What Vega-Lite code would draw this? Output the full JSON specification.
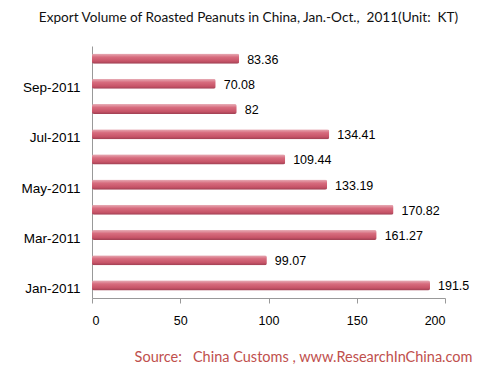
{
  "$schema": "https://vega.github.io/schema/vega-lite/v6.json",
  "autosize": {"type": "none"},
  "width": 353,
  "height": 252,
  "padding": {"left": 92, "top": 46, "right": 57, "bottom": 93},
  "background": "white",
  "title": {
    "text": "Export Volume of Roasted Peanuts in China, Jan.-Oct.,\u00a0 2011(Unit:\u00a0 KT)",
    "font": "Lato",
    "fontSize": 13.6,
    "fontWeight": "normal",
    "color": "#111111",
    "anchor": "middle",
    "dx": -20,
    "offset": 21
  },
  "data": {
    "values": [
      {"month": "Jan-2011", "value": 191.5},
      {"month": "Feb-2011", "value": 99.07},
      {"month": "Mar-2011", "value": 161.27},
      {"month": "Apr-2011", "value": 170.82},
      {"month": "May-2011", "value": 133.19},
      {"month": "Jun-2011", "value": 109.44},
      {"month": "Jul-2011", "value": 134.41},
      {"month": "Aug-2011", "value": 82},
      {"month": "Sep-2011", "value": 70.08},
      {"month": "Oct-2011", "value": 83.36}
    ]
  },
  "encoding": {
    "y": {
      "field": "month",
      "type": "nominal",
      "scale": {
        "domain": ["Oct-2011", "Sep-2011", "Aug-2011", "Jul-2011", "Jun-2011", "May-2011", "Apr-2011", "Mar-2011", "Feb-2011", "Jan-2011"],
        "paddingInner": 0.6,
        "paddingOuter": 0.3
      },
      "axis": {
        "title": null,
        "values": ["Jan-2011", "Mar-2011", "May-2011", "Jul-2011", "Sep-2011"],
        "ticks": false,
        "labelPadding": 12,
        "labelFont": "Liberation Sans",
        "labelFontSize": 13.5,
        "labelColor": "#000000",
        "domainColor": "#999999",
        "labelBaseline": "top",
        "labelOffset": -3
      }
    },
    "x": {
      "field": "value",
      "type": "quantitative",
      "scale": {"domain": [0, 200], "nice": false},
      "axis": {
        "values": [0, 50, 100, 150, 200],
        "grid": false,
        "tickColor": "#999999",
        "tickSize": 5,
        "domainColor": "#999999",
        "labelFont": "Liberation Sans",
        "labelFontSize": 12.5,
        "labelColor": "#000000",
        "labelPadding": 11,
        "title": "Source:\u00a0\u00a0 China Customs , www.ResearchInChina.com",
        "titleFont": "Lato",
        "titleFontSize": 14.5,
        "titleFontWeight": "normal",
        "titleColor": "#c0504d",
        "titleAnchor": "end",
        "titleAlign": "right",
        "titleX": 380,
        "titleY": 63,
        "titleBaseline": "alphabetic"
      }
    }
  },
  "layer": [
    {
      "mark": {
        "type": "bar",
        "cornerRadius": 2,
        "color": {
          "gradient": "linear",
          "x1": 0, "y1": 0, "x2": 0, "y2": 1,
          "stops": [
            {"offset": 0, "color": "#e8b0b9"},
            {"offset": 0.35, "color": "#d76c7e"},
            {"offset": 0.75, "color": "#c75468"},
            {"offset": 1, "color": "#9e3f52"}
          ]
        }
      }
    },
    {
      "mark": {
        "type": "text",
        "align": "left",
        "baseline": "middle",
        "dx": 8,
        "dy": 1,
        "font": "Liberation Sans",
        "fontSize": 12.5,
        "color": "#000000"
      },
      "encoding": {
        "text": {"field": "value", "type": "quantitative", "format": ""}
      }
    }
  ],
  "config": {
    "view": {"stroke": null}
  }
}
